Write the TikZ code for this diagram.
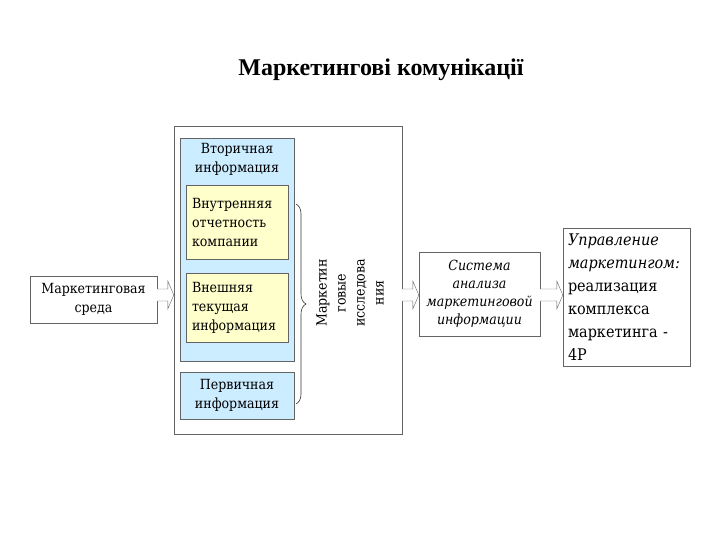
\documentclass[tikz,border=0pt]{standalone}
\usepackage{fontspec}
\setmainfont{DejaVu Serif Condensed}
\newfontfamily\titlefont{Liberation Serif}
\usetikzlibrary{calc,decorations.pathreplacing}

\definecolor{infoblue}{RGB}{204,236,255}
\definecolor{infoyellow}{RGB}{255,255,204}
\definecolor{edgegray}{RGB}{100,100,100}

\tikzset{
  box/.style={draw=edgegray, fill=white, inner sep=4pt},
  bluebox/.style={box, fill=infoblue},
  yellowbox/.style={box, fill=infoyellow, align=left, inner sep=6pt},
  fatarrow/.style={draw=edgegray, fill=white, line join=miter},
}

% fat outlined arrow: from anchor, to anchor, y
\newcommand{\fatarrow}[3]{%
  \path (#1 |- 0,#3) coordinate (fa-s) (#2 |- 0,#3) coordinate (fa-e);
  \draw[fatarrow] ($(fa-s)+(0,-6)$) -- ($(fa-e)+(-6,-6)$) -- ($(fa-e)+(-6,-14)$)
    -- (fa-e) -- ($(fa-e)+(-6,14)$) -- ($(fa-e)+(-6,6)$) -- ($(fa-s)+(0,6)$);
}

\begin{document}
\begin{tikzpicture}[x=1pt, y=-1pt, font=\fontsize{14}{19}\selectfont]
    \useasboundingbox (0,0) rectangle (720,540);

    \node[font=\titlefont\bfseries\fontsize{24}{28}\selectfont] (title) at (381,70) {Маркетингові комунікації};

    \node[box, minimum width=228pt, minimum height=308pt] (outer) at (288,280) {};

    \node[bluebox, minimum width=114pt, minimum height=223pt] (secinfo) at (237,249.5) {};
    \node[below, align=center, inner sep=5pt] (seclabel) at (secinfo.north) {Вторичная\\информация};

    \node[yellowbox, minimum width=102pt, minimum height=74pt, text width=90pt] (internal) at (237,222) {Внутренняя\\отчетность\\компании};
    \node[yellowbox, minimum width=102pt, minimum height=69pt, text width=90pt] (external) at (237,307.5) {Внешняя\\текущая\\информация};

    \node[bluebox, minimum width=114pt, minimum height=47pt, align=center] (primary) at (237,395.5) {Первичная\\информация};

    \draw[black!80, line width=0.6pt, decorate, decoration={brace, amplitude=10pt}] (296,204) -- (296,404);
    \node[rotate=90, align=center] (research) at (350,293) {Маркетин\\говые\\исследова\\ния};

    \node[box, minimum width=127pt, minimum height=47pt, align=center] (env) at (93.5,299.5) {Маркетинговая\\среда};

    \node[box, minimum width=121pt, minimum height=84pt, align=center,
      font=\itshape\fontsize{14}{18}\selectfont] (sysbox) at (479.5,294) {Система\\анализа\\маркетинговой\\информации};

    \node[box, minimum width=127pt, minimum height=138pt, text width=117pt, align=left,
      font=\fontsize{16}{23}\selectfont] (mgmt) at (626.5,297) {\textit{Управление}\\\textit{маркетингом:}\\реализация\\комплекса\\маркетинга -\\4Р};

    \fatarrow{env.east}{outer.west}{295}
    \fatarrow{outer.east}{sysbox.west}{295}
    \fatarrow{sysbox.east}{mgmt.west}{295}
\end{tikzpicture}
\end{document}
